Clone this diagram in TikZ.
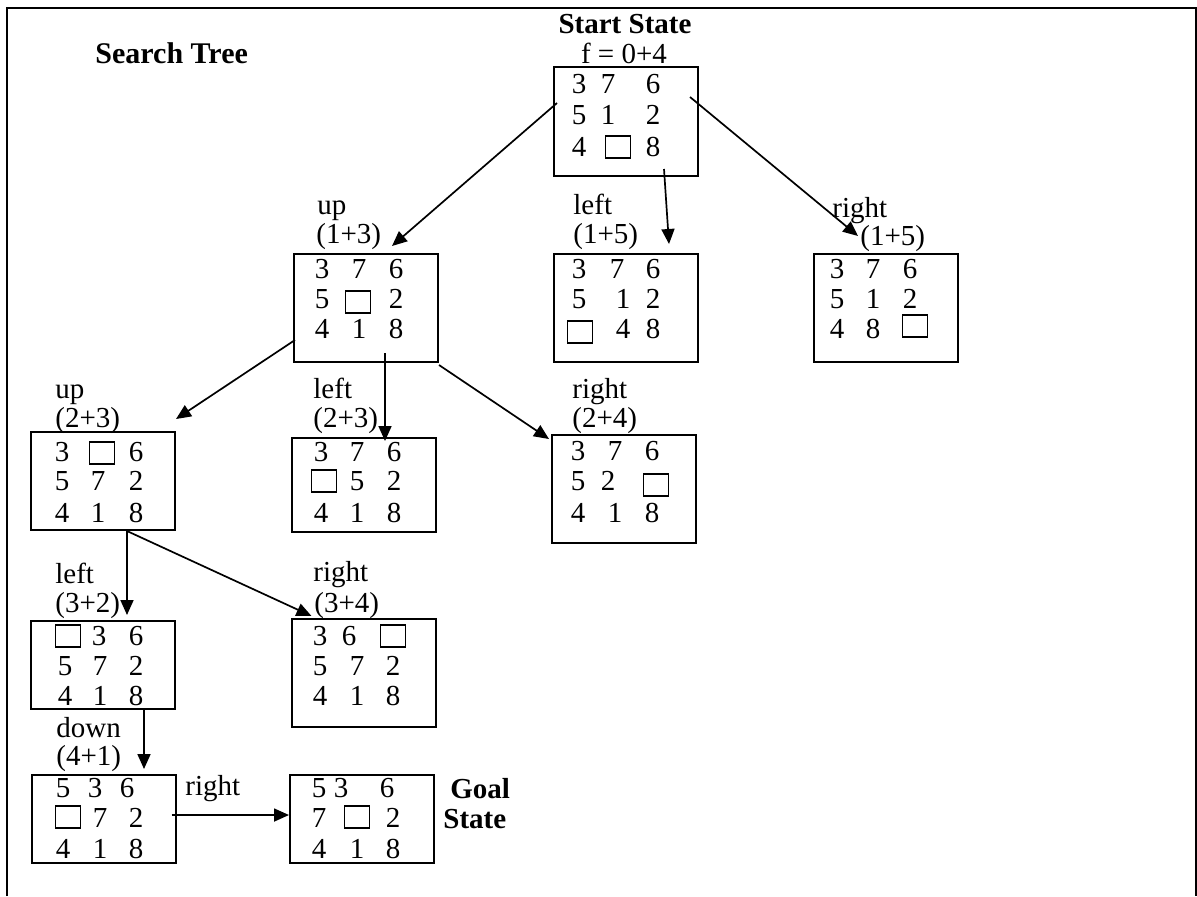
\documentclass[tikz,border=0pt]{standalone}
\usepackage{fontspec}
\setmainfont{Liberation Serif}
\usetikzlibrary{arrows.meta}

\begin{document}
\begin{tikzpicture}[x=0.5pt, y=-0.5pt, >={Triangle[length=7.5pt, width=6.5pt]},
		every node/.style={font=\fontsize{14.5}{16}\selectfont},
		state/.style={draw, rectangle, line width=1pt, minimum width=72pt, inner sep=0},
		num/.style={anchor=base, inner sep=0},
		lbl/.style={anchor=base west, inner sep=0},
		blank/.style={draw, rectangle, line width=0.7pt, minimum width=12.5pt, minimum height=11pt, inner sep=0},
		move/.style={->, line width=0.85pt}]
		\useasboundingbox (0,0) rectangle (1197,896);
		\draw[line width=1pt] (7,896) -- (7,8) -- (1196,8) -- (1196,896);

		% titles
		\node[lbl, font=\fontsize{15}{16}\selectfont\bfseries] (title) at (95,63) {Search Tree};
		\node[num, font=\fontsize{14.5}{16}\selectfont\bfseries] (start-t) at (625,33) {Start State};
		\node[num] (start-f) at (624,63) {f = 0+4};

		% boxes
		\node[state, minimum height=54.5pt] (start) at (626,121.5) {};
		\node[state, minimum height=54pt] (up1) at (366,308) {};
		\node[state, minimum height=54pt] (left1) at (625.5,308) {};
		\node[state, minimum height=54pt] (right1) at (886,308) {};
		\node[state, minimum height=49pt] (up2) at (103,481) {};
		\node[state, minimum height=47pt] (left2) at (364,485) {};
		\node[state, minimum height=54pt] (right2) at (624,489) {};
		\node[state, minimum height=44pt] (left3) at (103,665) {};
		\node[state, minimum height=54pt] (right3) at (363.5,673) {};
		\node[state, minimum height=44pt] (down) at (103.5,819) {};
		\node[state, minimum height=44pt] (goal) at (362,819) {};

		% tiles
		\foreach \x/\y/\digit [count=\i] in {579/93/3, 608/93/7, 653/93/6, 579/124/5, 608/124/1, 653/124/2, 579/156/4, 653/156/8}
			\node[num] (start-\i) at (\x,\y) {\digit};
		\node[blank] (start-b) at (618,147) {};
		\foreach \x/\y/\digit [count=\i] in {322/278/3, 359/278/7, 396/278/6, 322/308/5, 396/308/2, 322/338/4, 359/338/1, 396/338/8}
			\node[num] (up1-\i) at (\x,\y) {\digit};
		\node[blank] (up1-b) at (358,302) {};
		\foreach \x/\y/\digit [count=\i] in {579/278/3, 617/278/7, 653/278/6, 579/308/5, 623/308/1, 653/308/2, 623/338/4, 653/338/8}
			\node[num] (left1-\i) at (\x,\y) {\digit};
		\node[blank] (left1-b) at (580,332) {};
		\foreach \x/\y/\digit [count=\i] in {837/278/3, 873/278/7, 910/278/6, 837/308/5, 873/308/1, 910/308/2, 837/338/4, 873/338/8}
			\node[num] (right1-\i) at (\x,\y) {\digit};
		\node[blank] (right1-b) at (915,326) {};
		\foreach \x/\y/\digit [count=\i] in {62/461/3, 136/461/6, 62/490/5, 98/490/7, 136/490/2, 62/522/4, 98/522/1, 136/522/8}
			\node[num] (up2-\i) at (\x,\y) {\digit};
		\node[blank] (up2-b) at (102,453) {};
		\foreach \x/\y/\digit [count=\i] in {321/461/3, 357/461/7, 394/461/6, 357/490/5, 394/490/2, 321/522/4, 357/522/1, 394/522/8}
			\node[num] (left2-\i) at (\x,\y) {\digit};
		\node[blank] (left2-b) at (324,481) {};
		\foreach \x/\y/\digit [count=\i] in {578/460/3, 615/460/7, 652/460/6, 578/490/5, 608/490/2, 578/522/4, 615/522/1, 652/522/8}
			\node[num] (right2-\i) at (\x,\y) {\digit};
		\node[blank] (right2-b) at (656,485) {};
		\foreach \x/\y/\digit [count=\i] in {99/645/3, 136/645/6, 65/675/5, 100/675/7, 136/675/2, 65/705/4, 100/705/1, 136/705/8}
			\node[num] (left3-\i) at (\x,\y) {\digit};
		\node[blank] (left3-b) at (68,636) {};
		\foreach \x/\y/\digit [count=\i] in {320/645/3, 349/645/6, 320/675/5, 357/675/7, 393/675/2, 320/705/4, 357/705/1, 393/705/8}
			\node[num] (right3-\i) at (\x,\y) {\digit};
		\node[blank] (right3-b) at (393,636) {};
		\foreach \x/\y/\digit [count=\i] in {63/797/5, 95/797/3, 127/797/6, 100/827/7, 136/827/2, 63/858/4, 100/858/1, 136/858/8}
			\node[num] (down-\i) at (\x,\y) {\digit};
		\node[blank] (down-b) at (68,817) {};
		\foreach \x/\y/\digit [count=\i] in {319/797/5, 341/797/3, 387/797/6, 319/827/7, 393/827/2, 319/858/4, 357/858/1, 393/858/8}
			\node[num] (goal-\i) at (\x,\y) {\digit};
		\node[blank] (goal-b) at (357,817) {};

		% move labels
		\node[lbl] (up1-m) at (317,214) {up};
		\node[lbl] (up1-f) at (316,243) {(1+3)};
		\node[lbl] (left1-m) at (573,214) {left};
		\node[lbl] (left1-f) at (573,243) {(1+5)};
		\node[lbl] (right1-m) at (832,217) {right};
		\node[lbl] (right1-f) at (860,245) {(1+5)};
		\node[lbl] (up2-m) at (55,398) {up};
		\node[lbl] (up2-f) at (55,427) {(2+3)};
		\node[lbl] (left2-m) at (313,398) {left};
		\node[lbl] (left2-f) at (313,427) {(2+3)};
		\node[lbl] (right2-m) at (572,398) {right};
		\node[lbl] (right2-f) at (572,427) {(2+4)};
		\node[lbl] (left3-m) at (55,583) {left};
		\node[lbl] (left3-f) at (55,612) {(3+2)};
		\node[lbl] (right3-m) at (313,581) {right};
		\node[lbl] (right3-f) at (314,612) {(3+4)};
		\node[lbl] (down-m) at (56,737) {down};
		\node[lbl] (down-f) at (56,765) {(4+1)};
		\node[lbl] (goal-m) at (185,795) {right};
		\node[lbl, font=\fontsize{14.5}{16}\selectfont\bfseries] (goal-t1) at (450,798) {Goal};
		\node[lbl, font=\fontsize{14.5}{16}\selectfont\bfseries] (goal-t2) at (443,828) {State};

		% moves
		\draw[move] ([shift={(4,-18.5)}]start.west) -- ([shift={(26,-7)}]up1.north);
		\draw[move] ([shift={(38,-8)}]start.south) -- ([shift={(43.5,-9)}]left1.north);
		\draw[move] ([shift={(-9,-24.5)}]start.east) -- ([shift={(-28,-17)}]right1.north);
		\draw[move] ([shift={(2,32)}]up1.west) -- ([shift={(73,-12)}]up2.north);
		\draw[move] ([shift={(19,-10)}]up1.south) -- ([shift={(21,4)}]left2.north);
		\draw[move] ([shift={(0,2)}]up1.south east) -- ([shift={(-2,5)}]right2.north west);
		\draw[move] ([shift={(24,0)}]up2.south) -- ([shift={(24,-5)}]left3.north);
		\draw[move] ([shift={(24,0)}]up2.south) -- ([shift={(21,-2)}]right3.north west);
		\draw[move] ([shift={(41,0)}]left3.south) -- ([shift={(40.5,-5)}]down.north);
		\draw[move] ([shift={(-5,-4)}]down.east) -- ([shift={(0,-4)}]goal.west);
	\end{tikzpicture}
\end{document}
